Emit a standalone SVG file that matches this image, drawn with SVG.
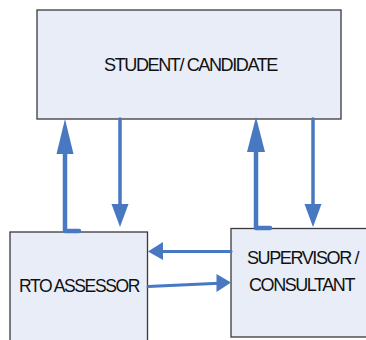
<svg xmlns="http://www.w3.org/2000/svg" width="366" height="340" viewBox="0 0 366 340">
<style>
.box{fill:#E8EDF7;stroke:#3a3a3a;stroke-width:1.3}
.t{font-family:"Liberation Sans",Arial,sans-serif;font-size:19px;fill:#111;letter-spacing:-1.5px}
.ln{fill:none;stroke:#4878C2;stroke-linecap:round;stroke-linejoin:round}
.hd{fill:#4878C2}
</style>
<rect width="366" height="340" fill="#fff"/>
<g id="student">
<rect class="box" x="37" y="10" width="304" height="109"/>
<text class="t" x="104" y="71" textLength="173" lengthAdjust="spacingAndGlyphs">STUDENT/ CANDIDATE</text>
</g>
<g id="rto">
<rect class="box" x="10" y="232" width="137.5" height="112"/>
<text class="t" x="19" y="292" textLength="120" lengthAdjust="spacingAndGlyphs">RTO ASSESSOR</text>
</g>
<g id="supervisor">
<rect class="box" x="231" y="228.5" width="140" height="108.5"/>
<text class="t" x="247" y="264" textLength="111" lengthAdjust="spacingAndGlyphs">SUPERVISOR /</text>
<text class="t" x="249" y="291" textLength="105" lengthAdjust="spacingAndGlyphs">CONSULTANT</text>
</g>
<g id="connectors">
<path class="ln" stroke-width="4.5" d="M79,231 L65,231 L65,150"/>
<polygon class="hd" points="65,119 56.5,154 73.5,154"/>
<path class="ln" stroke-width="3.5" d="M120,119 L120,206"/>
<polygon class="hd" points="120,227 111.5,204 128.5,204"/>
<path class="ln" stroke-width="4.5" d="M270,228 L256,228 L256,148"/>
<polygon class="hd" points="256,117 247,152 265,152"/>
<path class="ln" stroke-width="3.5" d="M313,119 L313,206"/>
<polygon class="hd" points="313,227 304.5,204 321.5,204"/>
<path class="ln" stroke-width="3" d="M231,251.5 L160,251.5"/>
<polygon class="hd" points="148,251.5 163,242 163,260"/>
<path class="ln" stroke-width="3" d="M148,286.5 L219,283.3"/>
<polygon class="hd" points="231,282.5 216.5,274 216.5,292"/>
</g>
</svg>
